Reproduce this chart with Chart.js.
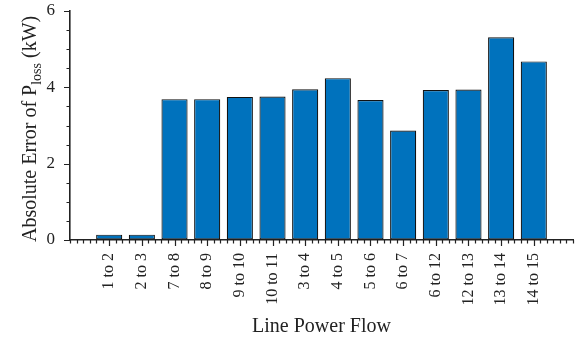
<!DOCTYPE html>
<html>
<head>
<meta charset="utf-8">
<script src="https://cdn.jsdelivr.net/npm/chart.js@4.4.1/dist/chart.umd.min.js"></script>
<style>
  html, body { margin: 0; padding: 0; background: #fff; }
  #wrap { width: 579px; height: 341px; }
</style>
</head>
<body>
<div id="wrap"><canvas id="lossChart"></canvas></div>
<script>
// line power flows and the absolute error of the loss estimate (kW)
var lineLabels = ['1 to 2', '2 to 3', '7 to 8', '8 to 9', '9 to 10', '10 to 11', '3 to 4',
                  '4 to 5', '5 to 6', '6 to 7', '6 to 12', '12 to 13', '13 to 14', '14 to 15'];
var lossError = [0.14, 0.14, 3.69, 3.69, 3.75, 3.76, 3.95, 4.24, 3.67, 2.87, 3.93, 3.94, 5.31, 4.68];
var yTickValues = [0, 2, 4, 6];

var serif = '"Liberation Serif", "Times New Roman", serif';
var ink = '#222';

// outward tick marks, MATLAB style: majors on labels, minors in between
var tickMarks = {
    id: 'tickMarks',
    afterDraw: function (chart) {
        var ctx = chart.ctx;
        var xs = chart.scales.x, ys = chart.scales.y;
        var area = chart.chartArea;
        ctx.save();
        ctx.strokeStyle = ink;
        ctx.lineWidth = 1.2;
        ctx.beginPath();
        for (var v = xs.min; v <= xs.max + 1e-6; v += 0.2) {
            var px = Math.round(xs.getPixelForValue(v)) + 0.5;
            var isMajor = Math.abs(v - Math.round(v)) < 1e-6 && Math.round(v) >= 1 && Math.round(v) <= lineLabels.length;
            ctx.moveTo(px, area.bottom);
            ctx.lineTo(px, area.bottom + (isMajor ? 6 : 3.5));
        }
        for (var w = ys.min; w <= ys.max + 1e-6; w += 0.5) {
            var py = Math.round(ys.getPixelForValue(w)) + 0.5;
            var major = Math.abs(w / 2 - Math.round(w / 2)) < 1e-6;
            ctx.moveTo(area.left, py);
            ctx.lineTo(area.left - (major ? 6 : 3.5), py);
        }
        ctx.stroke();

        // y title with subscript
        ctx.fillStyle = ink;
        ctx.translate(36, 242);
        ctx.rotate(-Math.PI / 2);
        ctx.textBaseline = 'alphabetic';
        ctx.textAlign = 'left';
        var big = '20px ' + serif, small = '14px ' + serif;
        ctx.font = big;
        var a = 'Absolute Error of P';
        ctx.fillText(a, 0, 0);
        var x = ctx.measureText(a).width;
        ctx.font = small;
        ctx.fillText('loss', x, 5);
        x += ctx.measureText('loss').width;
        ctx.font = big;
        ctx.fillText(' (kW)', x, 0);
        ctx.restore();
    }
};

new Chart(document.getElementById('lossChart'), {
    type: 'bar',
    data: {
        datasets: [{
            data: lossError.map(function (v, i) { return { x: i + 1, y: v }; }),
            backgroundColor: '#0072BD',
            borderColor: '#111',
            borderWidth: 1.2,
            borderSkipped: false,
            categoryPercentage: 1,
            barPercentage: 0.8
        }]
    },
    plugins: [tickMarks],
    options: {
        responsive: true,
        maintainAspectRatio: false,
        animation: false,
        layout: { padding: { top: 11, right: 6, left: 0, bottom: 0 } },
        plugins: { legend: { display: false }, tooltip: { enabled: false } },
        scales: {
            x: {
                type: 'linear',
                offset: false,
                min: -0.2,
                max: lineLabels.length + 1.2,
                afterBuildTicks: function (scale) {
                    scale.ticks = lineLabels.map(function (_, i) { return { value: i + 1 }; });
                },
                afterFit: function (scale) { scale.height = 101; },
                ticks: {
                    autoSkip: false,
                    minRotation: 90,
                    maxRotation: 90,
                    padding: 13,
                    color: ink,
                    font: { family: serif, size: 16 },
                    callback: function (value) { return lineLabels[value - 1]; }
                },
                grid: { drawOnChartArea: false, drawTicks: false },
                border: { display: true, color: ink, width: 1.6 },
                title: {
                    display: true,
                    text: 'Line Power Flow',
                    color: ink,
                    font: { family: serif, size: 20 },
                    padding: { top: 0, bottom: 2 }
                }
            },
            y: {
                min: 0,
                max: 6,
                afterBuildTicks: function (scale) {
                    scale.ticks = yTickValues.map(function (v) { return { value: v }; });
                },
                afterFit: function (scale) {
                    scale.width = 70;
                    scale.paddingTop = 0;
                    scale.paddingBottom = 0;
                },
                ticks: {
                    padding: 15,
                    color: ink,
                    font: { family: serif, size: 17 }
                },
                grid: { drawOnChartArea: false, drawTicks: false },
                border: { display: true, color: ink, width: 1.6 }
            }
        }
    }
});
</script>
</body>
</html>
